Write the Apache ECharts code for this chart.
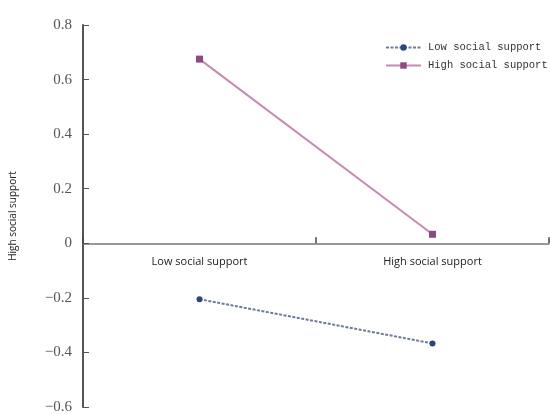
<!DOCTYPE html>
<html>
<head>
<meta charset="utf-8">
<script src="https://cdn.jsdelivr.net/npm/echarts@6/dist/echarts.min.js"></script>
<style>
  html, body { margin: 0; padding: 0; background: #fff; }
  #chart { width: 550px; height: 414px; }
</style>
</head>
<body>
<div id="chart"></div>
<script>
var categories = ['Low social support', 'High social support'];
var lowSupport = [-0.205, -0.367];
var highSupport = [0.675, 0.033];
var yTicks = { min: -0.6, max: 0.8, step: 0.2 };

var gridTop = 25, gridBottom = 7, chartH = 414;
// move the category axis up to the zero line (labels included)
var plotH = chartH - gridTop - gridBottom;
var zeroOffset = -plotH * (0 - yTicks.min) / (yTicks.max - yTicks.min);

var chart = echarts.init(document.getElementById('chart'));

chart.setOption({
  backgroundColor: '#fff',
  animation: false,
  grid: { left: 83, right: 1, top: gridTop, bottom: gridBottom, containLabel: false, outerBoundsMode: 'none' },
  legend: {
    orient: 'vertical',
    left: 380,
    top: 37,
    itemGap: 7,
    itemWidth: 35,
    itemHeight: 8,
    textStyle: { fontFamily: 'Liberation Mono', fontSize: 10.5, color: '#333', padding: [0, 0, 0, 2] },
    data: ['Low social support', 'High social support']
  },
  xAxis: {
    type: 'category',
    data: categories,
    boundaryGap: true,
    offset: zeroOffset,
    axisLine: { onZero: false, lineStyle: { color: '#777', width: 1.5 } },
    axisTick: { show: true, inside: true, length: 6, lineStyle: { color: '#444', width: 1.5 } },
    axisLabel: { margin: 13, fontFamily: 'Open Sans', fontSize: 11, color: '#222' }
  },
  yAxis: {
    type: 'value',
    min: yTicks.min,
    max: yTicks.max,
    interval: yTicks.step,
    name: 'High social support',
    nameLocation: 'middle',
    nameRotate: 90,
    nameGap: 65,
    nameTextStyle: { fontFamily: 'Open Sans', fontSize: 10, color: '#222' },
    splitLine: { show: false },
    axisLine: { show: true, lineStyle: { color: '#555', width: 2 } },
    axisTick: { show: true, inside: true, length: 6, lineStyle: { color: '#555', width: 1 } },
    axisLabel: {
      margin: 11,
      fontFamily: 'Liberation Serif',
      fontSize: 15,
      color: '#555',
      formatter: function (v) {
        var s = Math.abs(v) < 1e-9 ? '0' : (+v.toFixed(1)).toString();
        return s.replace('-', '\u2212');
      }
    }
  },
  series: [
    {
      name: 'Low social support',
      type: 'line',
      data: lowSupport,
      symbol: 'circle',
      symbolSize: 6,
      itemStyle: { color: '#2b4678' },
      lineStyle: { color: '#6d7a98', width: 2, type: [3, 1.5] }
    },
    {
      name: 'High social support',
      type: 'line',
      data: highSupport,
      symbol: 'rect',
      symbolSize: 7,
      itemStyle: { color: '#8c4a82' },
      lineStyle: { color: '#c58bb3', width: 2 }
    }
  ]
});
</script>
</body>
</html>
